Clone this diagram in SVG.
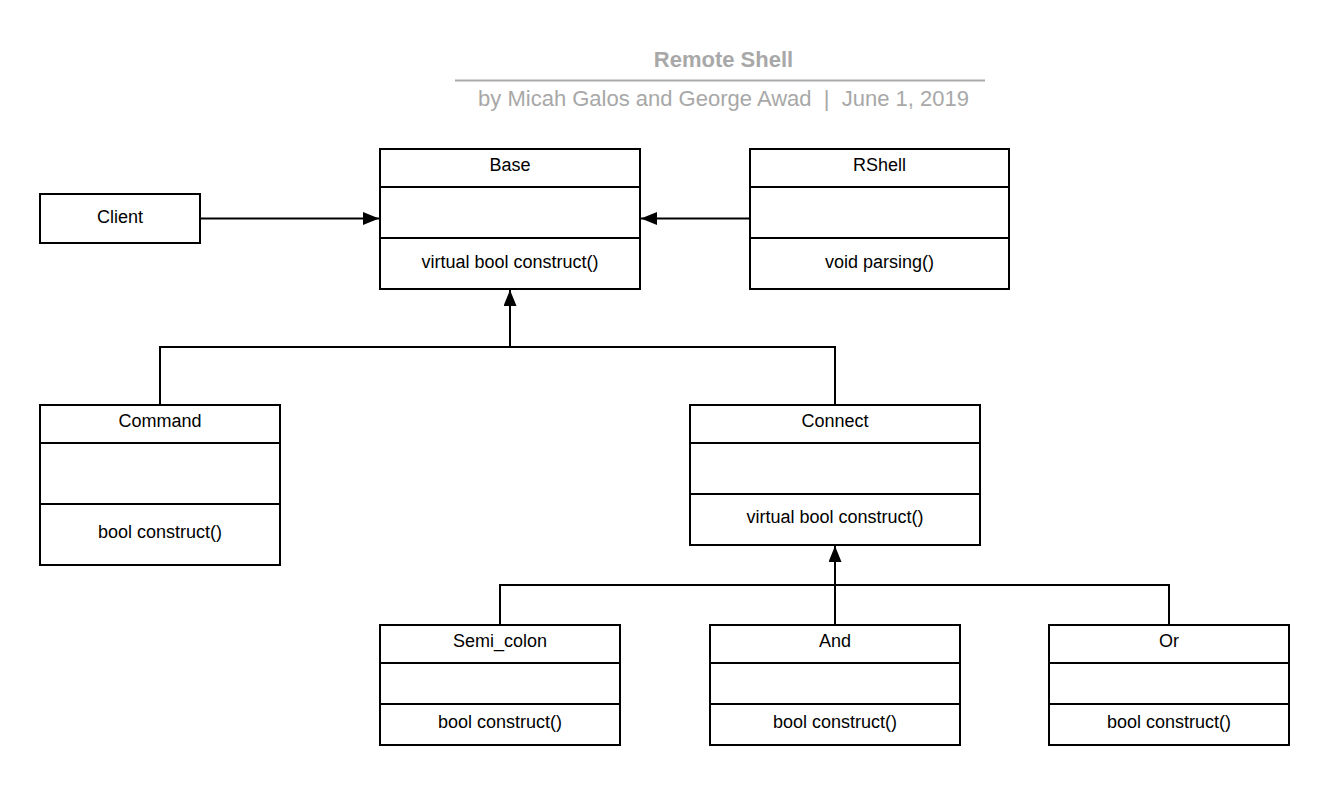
<svg xmlns="http://www.w3.org/2000/svg" width="1330" height="785" viewBox="0 0 1330 785">
<style>
.box{fill:#ffffff;stroke:#000000;stroke-width:2}
.div{stroke:#000000;stroke-width:2}
.lbl{font-family:"Liberation Sans",Arial,sans-serif;font-size:18px;fill:#000000;text-anchor:middle}
.conn{fill:none;stroke:#000000;stroke-width:2}
.title{font-family:"Liberation Sans",Arial,sans-serif;font-size:22px;font-weight:bold;fill:#a8a8a8;text-anchor:middle}
.sub{font-family:"Liberation Sans",Arial,sans-serif;font-size:22px;fill:#a8a8a8;text-anchor:middle}
</style>
<defs>
<marker id="arr" markerUnits="userSpaceOnUse" markerWidth="17" markerHeight="14" refX="16" refY="6.5" orient="auto">
<path d="M0,0 L16,6.5 L0,13 z" fill="#000000"/>
</marker>
</defs>
<rect width="1330" height="785" fill="#ffffff"/>
<g id="title">
<text class="title" x="723.5" y="67">Remote Shell</text>
<line x1="455" y1="80.5" x2="985" y2="80.5" stroke="#aaaaaa" stroke-width="2"/>
<text class="sub" x="723.5" y="105.5" xml:space="preserve">by Micah Galos and George Awad  |  June 1, 2019</text>
</g>
<g id="connectors">
<line class="conn" x1="200" y1="218.5" x2="379" y2="218.5" marker-end="url(#arr)"/>
<line class="conn" x1="750" y1="218.5" x2="641" y2="218.5" marker-end="url(#arr)"/>
<polyline class="conn" points="160,405 160,347 835,347 835,405"/>
<line class="conn" x1="510" y1="347" x2="510" y2="290" marker-end="url(#arr)"/>
<polyline class="conn" points="500,625 500,585 1169,585 1169,625"/>
<line class="conn" x1="835" y1="625" x2="835" y2="546" marker-end="url(#arr)"/>
</g>
<g id="client">
<rect class="box" x="40" y="194" width="160" height="49"/>
<text class="lbl" x="120" y="223">Client</text>
</g>
<g id="base">
<rect class="box" x="380" y="149" width="260" height="140"/>
<line class="div" x1="380" y1="187" x2="640" y2="187"/>
<line class="div" x1="380" y1="238" x2="640" y2="238"/>
<text class="lbl" x="510" y="171">Base</text>
<text class="lbl" x="510" y="268">virtual bool construct()</text>
</g>
<g id="rshell">
<rect class="box" x="750" y="149" width="259" height="140"/>
<line class="div" x1="750" y1="187" x2="1009" y2="187"/>
<line class="div" x1="750" y1="238" x2="1009" y2="238"/>
<text class="lbl" x="879.5" y="171">RShell</text>
<text class="lbl" x="879.5" y="268">void parsing()</text>
</g>
<g id="command">
<rect class="box" x="40" y="405" width="240" height="160"/>
<line class="div" x1="40" y1="443" x2="280" y2="443"/>
<line class="div" x1="40" y1="504" x2="280" y2="504"/>
<text class="lbl" x="160" y="427">Command</text>
<text class="lbl" x="160" y="538">bool construct()</text>
</g>
<g id="connect">
<rect class="box" x="690" y="405" width="290" height="140"/>
<line class="div" x1="690" y1="443" x2="980" y2="443"/>
<line class="div" x1="690" y1="494" x2="980" y2="494"/>
<text class="lbl" x="835" y="427">Connect</text>
<text class="lbl" x="835" y="523">virtual bool construct()</text>
</g>
<g id="semi_colon">
<rect class="box" x="380" y="625" width="240" height="120"/>
<line class="div" x1="380" y1="663" x2="620" y2="663"/>
<line class="div" x1="380" y1="704" x2="620" y2="704"/>
<text class="lbl" x="500" y="647">Semi_colon</text>
<text class="lbl" x="500" y="728">bool construct()</text>
</g>
<g id="and">
<rect class="box" x="710" y="625" width="250" height="120"/>
<line class="div" x1="710" y1="663" x2="960" y2="663"/>
<line class="div" x1="710" y1="704" x2="960" y2="704"/>
<text class="lbl" x="835" y="647">And</text>
<text class="lbl" x="835" y="728">bool construct()</text>
</g>
<g id="or">
<rect class="box" x="1049" y="625" width="240" height="120"/>
<line class="div" x1="1049" y1="663" x2="1289" y2="663"/>
<line class="div" x1="1049" y1="704" x2="1289" y2="704"/>
<text class="lbl" x="1169" y="647">Or</text>
<text class="lbl" x="1169" y="728">bool construct()</text>
</g>
</svg>
